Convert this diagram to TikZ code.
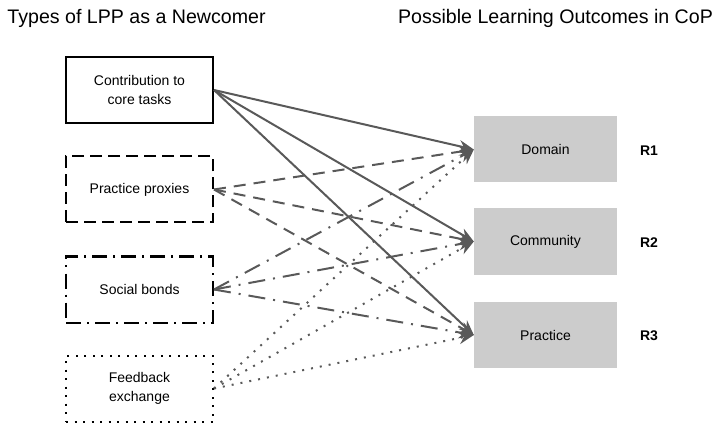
\documentclass[tikz,border=0pt]{standalone}
\usepackage{fontspec}
\setmainfont{Liberation Sans}
\usetikzlibrary{arrows.meta}
\definecolor{lnk}{HTML}{595959}
\definecolor{box}{HTML}{CCCCCC}
\begin{document}
\begin{tikzpicture}[x=1pt,y=-1pt,
  lppbox/.style={draw=black,line width=2pt,minimum width=147pt,minimum height=66pt,align=center,font=\fontsize{14}{18.5}\selectfont,inner sep=0pt},
  outbox/.style={fill=box,minimum width=143pt,minimum height=66pt,font=\fontsize{14}{18}\selectfont,inner sep=0pt},
  rlabel/.style={font=\fontsize{14}{16}\selectfont\bfseries},
  title/.style={font=\fontsize{19.6}{22}\selectfont},
  link/.style={draw=lnk,line width=2pt,-{Stealth[length=15pt,width=12pt]}},
  dashlink/.style={link,dash pattern=on 12pt off 8pt},
  dashdotlink/.style={link,dash pattern=on 17pt off 8pt on 2pt off 8pt},
  dotlink/.style={link,dash pattern=on 2pt off 7pt},
]
\useasboundingbox (0,0) rectangle (721,425);
\node[title] (t1) at (136.5,18) {Types of LPP as a Newcomer};
\node[title] (t2) at (555.5,18) {Possible Learning Outcomes in CoP};

\node[lppbox] (c) at (139.5,90) {Contribution to\\core tasks};
\node[lppbox,dash pattern=on 12pt off 6pt] (p) at (139.5,189.5) {Practice proxies};
\node[lppbox,dash pattern=on 15pt off 6pt on 2pt off 6pt] (s) at (139.5,289.5) {Social bonds};
\node[lppbox,dash pattern=on 2pt off 6.5pt] (f) at (139.5,388.5) {Feedback\\exchange};

\node[outbox] (d) at (545.5,149.5) {Domain};
\node[outbox] (m) at (545.5,241.5) {Community};
\node[outbox] (r) at (545.5,335) {Practice};

\node[rlabel] (r1) at (649,151) {R1};
\node[rlabel] (r2) at (649,243) {R2};
\node[rlabel] (r3) at (649,336) {R3};

\foreach \t in {d,m,r}{
  \draw[link] (c.east) -- (\t.west);
  \draw[dashlink] (p.east) -- (\t.west);
  \draw[dashdotlink] (s.east) -- (\t.west);
  \draw[dotlink] (f.east) -- (\t.west);
}
\end{tikzpicture}
\end{document}
